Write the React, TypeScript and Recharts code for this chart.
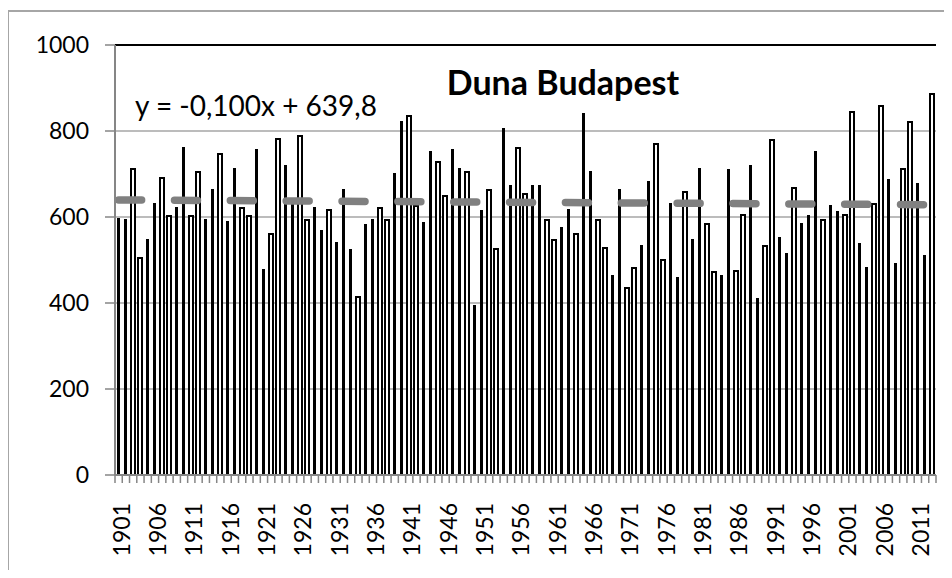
import { ComposedChart, Bar, Line, XAxis, YAxis, CartesianGrid, ReferenceLine } from 'recharts';

// annual values, Duna Budapest, 1901-2013
const startYear = 1901;
const flow = [
  597, 595, 713, 507, 548, 633, 694, 604, 624, 762, 605, 707, 595, 665,
  750, 591, 713, 624, 605, 759, 479, 563, 783, 721, 643, 791, 595, 624,
  569, 619, 542, 665, 526, 416, 583, 596, 624, 596, 703, 824, 837, 628,
  588, 753, 731, 652, 759, 713, 707, 396, 616, 665, 527, 806, 675, 763, 655,
  675, 675, 596, 549, 577, 619, 563, 842, 707, 596, 531, 465, 665, 437,
  483, 535, 683, 772, 503, 633, 461, 661, 548, 713, 587, 474, 465, 711,
  476, 606, 721, 411, 535, 781, 554, 517, 670, 587, 605, 753, 596, 629,
  614, 606, 847, 540, 484, 632, 861, 688, 493, 713, 824, 680, 512, 889,
];
const years = flow.map((_, i) => String(startYear + i));
// linear trend y = -0,100x + 639,8 : values at first and last year
const trendEnds = [639.7, 628.5];
const yTicks = [0, 200, 400, 600, 800, 1000];

const data = years.map((year, i) => ({
  year,
  flow: flow[i],
  trend: i === 0 ? trendEnds[0] : i === years.length - 1 ? trendEnds[1] : null,
}));

const FONT = 'Lato, "Open Sans", sans-serif';
const W = 952;
const H = 578;
const margin = { top: 45, right: 16, bottom: 0, left: 0 };
const Y_W = 115;
const X_H = 103;
const PLOT_W = W - margin.left - margin.right - Y_W;
const BAND = PLOT_W / years.length;
const AXIS = '#868686';

// excel-ish pixel bars: some render solid, some hollow
function ExcelBar(props: any) {
  const { x, y, width, height } = props;
  if (!height || height <= 0) return null;
  const c = x + width / 2;
  const f = c - Math.floor(c);
  const top = Math.round(y);
  const bottom = Math.round(y + height);
  if (f >= 0.45) {
    return <rect x={Math.floor(c) - 1} y={top} width={3} height={bottom - top} fill="#000" shapeRendering="crispEdges" />;
  }
  const l = Math.floor(c) - 3;
  return (
    <rect x={l + 1} y={top + 1} width={4} height={bottom - top - 1} fill="#fff" stroke="#000" strokeWidth={2} shapeRendering="crispEdges" />
  );
}

function YearTick(props: any) {
  const { x, y, payload, index } = props;
  const left = x - BAND / 2;
  return (
    <g>
      <line x1={left} y1={y} x2={left} y2={y + 8} stroke={AXIS} strokeWidth={1.5} />
      {index === years.length - 1 && (
        <line x1={x + BAND / 2} y1={y} x2={x + BAND / 2} y2={y + 8} stroke={AXIS} strokeWidth={1.5} />
      )}
      {index % 5 === 0 && (
        <text
          x={x + 11}
          y={y + 28}
          transform={`rotate(-90, ${x + 11}, ${y + 28})`}
          textAnchor="end"
          fontFamily={FONT}
          fontSize={23}
          fill="#000"
        >
          {payload.value}
        </text>
      )}
    </g>
  );
}

export default function App() {
  return (
    <div style={{ position: 'relative', width: W, height: H, margin: -8, overflow: 'hidden', background: '#fff' }}>
      <div
        style={{
          position: 'absolute', left: 7, top: 10, width: 1000, height: 700,
          border: '2px solid #a6a6a6',
        }}
      />
      <div style={{ position: 'absolute', left: 0, top: 0 }}>
        <ComposedChart width={W} height={H} data={data} margin={margin}>
          <CartesianGrid vertical={false} stroke="#a6a6a6" strokeWidth={1.5} />
          <XAxis
            dataKey="year"
            height={X_H}
            interval={0}
            tickSize={0}
            tickMargin={0}
            tickLine={false}
            axisLine={{ stroke: AXIS, strokeWidth: 2 }}
            tick={<YearTick />}
          />
          <YAxis
            domain={[0, 1000]}
            ticks={yTicks}
            width={Y_W}
            tickSize={10}
            tickMargin={16}
            axisLine={{ stroke: AXIS, strokeWidth: 2 }}
            tickLine={{ stroke: AXIS, strokeWidth: 1.5 }}
            tick={{ fontFamily: FONT, fontSize: 23, fill: '#000' }}
          />
          <YAxis
            yAxisId="frame"
            orientation="right"
            domain={[0, 1000]}
            width={0}
            tick={false}
            tickLine={false}
            axisLine={{ stroke: '#000', strokeWidth: 2 }}
          />
          <ReferenceLine y={1000} stroke="#000" strokeWidth={2} />
          <Bar dataKey="flow" barSize={5} shape={<ExcelBar />} isAnimationActive={false} />
          <Line
            dataKey="trend"
            connectNulls
            stroke="#808080"
            strokeWidth={7.5}
            strokeDasharray="23 32.85"
            strokeLinecap="round"
            dot={false}
            activeDot={false}
            isAnimationActive={false}
          />
        </ComposedChart>
      </div>
      <svg width={W} height={H} style={{ position: 'absolute', left: 0, top: 0, pointerEvents: 'none' }}>
        <text x={563} y={95} textAnchor="middle" fontFamily={FONT} fontWeight="bold" fontSize={34} fill="#000">
          Duna Budapest
        </text>
        <text x={135} y={116} fontFamily={FONT} fontSize={28} fill="#000">
          y = -0,100x + 639,8
        </text>
      </svg>
    </div>
  );
}
